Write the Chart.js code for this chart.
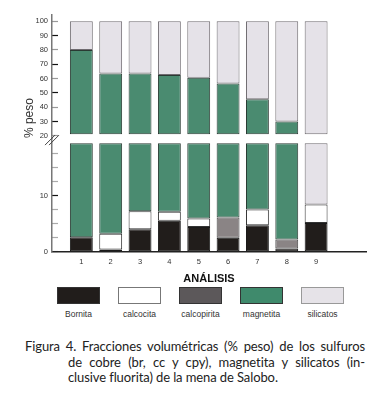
<!DOCTYPE html>
<html>
<head>
<meta charset="utf-8">
<script src="https://cdn.jsdelivr.net/npm/chart.js@4.4.0/dist/chart.umd.min.js"></script>
<style>
    body { margin: 0; background: #fff; width: 373px; height: 405px; overflow: hidden; font-family: Arial, "Liberation Sans", sans-serif; }
    #wrap { position: relative; width: 373px; height: 286px; }
    #legend { display: flex; margin: 1px 0 0 48px; }
    .item { width: 61px; display: flex; flex-direction: column; align-items: center; }
    .box { width: 41px; height: 15px; border: 1px solid #555; }
    .lbl { font-size: 8.5px; color: #333; margin-top: 5px; line-height: 10px; }
    #caption { margin: 20px 0 0 0; font-family: Lato, "Open Sans", sans-serif; font-size: 13px; letter-spacing: -0.1px; color: #222; line-height: 15.5px; }
    #caption div { padding-left: 68px; width: 297px; white-space: nowrap; text-align: justify; text-align-last: justify; }
    #caption div.first { padding-left: 25px; width: 340px; }
    #caption div.last { text-align-last: left; }
</style>
</head>
<body>
<div id="wrap"><canvas id="chart"></canvas></div>
<div id="legend"></div>
<div id="caption">
    <div class="first">Figura 4. Fracciones volumétricas (% peso) de los sulfuros</div>
    <div>de cobre (br, cc y cpy), magnetita y silicatos (in-</div>
    <div class="last">clusive fluorita) de la mena de Salobo.</div>
</div>
<script>
// Datos (% peso por análisis, de abajo hacia arriba)
const categories = ['1', '2', '3', '4', '5', '6', '7', '8', '9'];
const seriesNames = ['Bornita', 'calcocita', 'calcopirita', 'magnetita', 'silicatos'];
const bornita     = [2.6, 0.4, 4.0, 5.5, 4.4, 2.5, 4.7, 0.6, 5.1];
const calcocita   = [0, 2.8, 3.2, 1.6, 1.5, 0, 2.8, 0, 3.3];
const calcopirita = [0, 0, 0, 0, 0, 3.6, 0, 1.6, 0];
const magnetita   = [77.4, 60.3, 56.3, 55.4, 54.6, 50.4, 38.0, 27.8, 0];
const silicatos   = [20.0, 36.5, 36.5, 37.5, 39.5, 43.5, 54.5, 70.0, 91.6];
const upperTicks  = [20, 30, 40, 50, 60, 70, 80, 90, 100];
const lowerTicks  = [0, 2.5, 5, 7.5, 10, 12.5, 15, 17.5];
const lowerLabels = [0, 10];

const seriesValues = [bornita, calcocita, calcopirita, magnetita, silicatos];
const fills   = ['#211d1b', '#ffffff', '#8a8485', '#4a8b70', '#e5e2e8'];
const borders = ['#1a1a1a', '#333333', '#444444', '#2a3a33', '#6f6b70'];
const legendFills = ['#211d1b', '#ffffff', '#5c585a', '#3f8a6c', '#e6e3e8'];

// eje cortado: parte baja 0-20, parte alta 20-100
const BREAK_LO = 19.3;
const BREAK_HI = 21;
const panels = [
    { axis: 'yHigh', lo: BREAK_HI, hi: 100 },
    { axis: 'yLow', lo: 0, hi: BREAK_LO }
];

function buildDatasets() {
    const datasets = [];
    panels.forEach(panel => {
        const base = categories.map(() => 0);
        seriesValues.forEach((values, s) => {
            const data = [];
            values.forEach((v, i) => {
                const start = base[i];
                const end = start + v;
                base[i] = end;
                const a = Math.max(start, panel.lo);
                const b = Math.min(end, panel.hi);
                if (v > 0 && b > a) data.push({ x: i + 1, y: [a, b] });
            });
            datasets.push({
                label: seriesNames[s],
                data: data,
                yAxisID: panel.axis,
                backgroundColor: fills[s],
                borderColor: borders[s],
                borderWidth: 1,
                borderSkipped: false,
                grouped: false,
                categoryPercentage: 1,
                barPercentage: 0.78
            });
        });
    });
    return datasets;
}

// marca de corte "//" en el eje
const breakMark = {
    id: 'breakMark',
    afterDraw(chart) {
        const sc = chart.scales.yHigh;
        const ctx = chart.ctx;
        const x = sc.right;
        const y = sc.bottom + 2;
        ctx.save();
        ctx.strokeStyle = '#444';
        ctx.lineWidth = 1;
        [-2, 2].forEach(dx => {
            ctx.beginPath();
            ctx.moveTo(x + dx - 5, y + 5);
            ctx.lineTo(x + dx + 5, y - 5);
            ctx.stroke();
        });
        ctx.restore();
    }
};

const tickFont = { family: 'Arial, "Liberation Sans", sans-serif', size: 7.5 };
const Y_AXIS_WIDTH = 30;

new Chart(document.getElementById('chart'), {
    type: 'bar',
    data: { datasets: buildDatasets() },
    plugins: [breakMark],
    options: {
        responsive: true,
        maintainAspectRatio: false,
        animation: false,
        layout: { padding: { left: 22, right: 7, top: 5, bottom: 0 } },
        plugins: { legend: { display: false }, tooltip: { enabled: false } },
        scales: {
            x: {
                type: 'linear',
                min: 0,
                max: 10.7,
                offset: false,
                grid: { display: false, drawTicks: false },
                border: { display: true, color: '#222', width: 1.5 },
                afterBuildTicks: sc => { sc.ticks = categories.map((c, i) => ({ value: i + 1 })); },
                ticks: {
                    callback: (v, i) => categories[i],
                    font: tickFont,
                    color: '#333',
                    padding: 6,
                    autoSkip: false,
                    maxRotation: 0
                },
                title: {
                    display: true,
                    text: 'ANÁLISIS',
                    color: '#111',
                    font: { family: 'Arial, "Liberation Sans", sans-serif', size: 11, weight: 'bold' },
                    padding: { top: 0, bottom: 0 }
                }
            },
            yLow: {
                type: 'linear',
                position: 'left',
                stack: 'y',
                stackWeight: 115,
                min: 0,
                max: 20.2,
                afterBuildTicks: sc => { sc.ticks = lowerTicks.map(v => ({ value: v })); },
                afterFit: sc => { sc.width = Y_AXIS_WIDTH; },
                grid: {
                    drawOnChartArea: false,
                    tickLength: -6,
                    tickColor: c => (c.tick && c.tick.value === 10) ? '#111' : '#aaa',
                    tickWidth: 1.2
                },
                border: { display: true, color: '#777', width: 1.5 },
                ticks: {
                    font: tickFont,
                    color: '#333',
                    padding: 10,
                    autoSkip: false,
                    callback: v => lowerLabels.includes(v) ? String(v) : ''
                }
            },
            yHigh: {
                type: 'linear',
                position: 'left',
                stack: 'y',
                stackWeight: 125,
                min: 18.4,
                max: 104.8,
                afterBuildTicks: sc => { sc.ticks = upperTicks.map(v => ({ value: v })); },
                afterFit: sc => { sc.width = Y_AXIS_WIDTH; },
                grid: {
                    drawOnChartArea: false,
                    tickLength: -6,
                    tickColor: c => (c.tick && c.tick.value % 20 === 10) ? '#111' : '#999',
                    tickWidth: 1.2
                },
                border: { display: true, color: '#777', width: 1.5 },
                ticks: { font: tickFont, color: '#333', padding: 10, autoSkip: false },
                title: {
                    display: true,
                    text: '% peso',
                    align: 'start',
                    color: '#333',
                    font: { family: 'Arial, "Liberation Sans", sans-serif', size: 12 },
                    padding: { top: 0, bottom: 2 }
                }
            }
        }
    }
});

// leyenda con la etiqueta debajo de cada caja
const legend = document.getElementById('legend');
seriesNames.forEach((name, s) => {
    const item = document.createElement('div');
    item.className = 'item';
    const box = document.createElement('div');
    box.className = 'box';
    box.style.background = legendFills[s];
    box.style.borderColor = s === 4 ? '#999' : (s === 1 ? '#777' : '#333');
    const lbl = document.createElement('div');
    lbl.className = 'lbl';
    lbl.textContent = name;
    item.appendChild(box);
    item.appendChild(lbl);
    legend.appendChild(item);
});
</script>
</body>
</html>
